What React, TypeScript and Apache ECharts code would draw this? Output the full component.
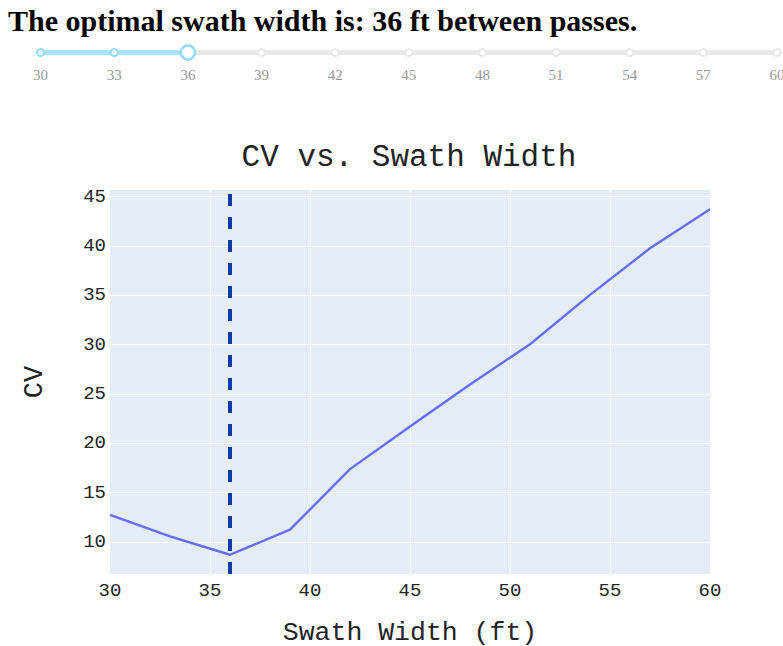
import React, { useEffect, useRef } from "react";
import * as echarts from "echarts";

// ---- data ----
const headerText = "The optimal swath width is: 36 ft between passes.";
const chartTitle = "CV vs. Swath Width";
const xAxisTitle = "Swath Width (ft)";
const yAxisTitle = "CV";

const sliderMarks = [30, 33, 36, 39, 42, 45, 48, 51, 54, 57, 60];
const optimalWidth = 36;

const swathWidths = [30, 33, 36, 39, 42, 45, 48, 51, 54, 57, 60];
const cvValues = [12.76, 10.57, 8.71, 11.25, 17.39, 21.7, 25.96, 30.05, 35.05, 39.77, 43.73];

const xRange = [30, 60];
const xTickStep = 5;
const yRange = [6.76, 45.68];

const MONO = '"Liberation Mono", "Courier New", monospace';
const SERIF = '"Liberation Serif", "Times New Roman", serif';
const TEXT = "#222";

export default function App() {
  const ref = useRef<HTMLDivElement>(null);

  useEffect(() => {
    const chart = echarts.init(ref.current!, null, {
      renderer: "svg",
      width: 783,
      height: 646,
    });
    const first = sliderMarks[0];
    const last = sliderMarks[sliderMarks.length - 1];
    const option: any = {
      animation: false,
      backgroundColor: "#ffffff",
      graphic: [
        {
          type: "text",
          left: 8,
          top: 5,
          style: {
            text: headerText,
            font: `bold 30px ${SERIF}`,
            fill: "#000",
          },
        },
        {
          type: "text",
          x: 409,
          y: 157,
          style: {
            text: chartTitle,
            font: `31px ${MONO}`,
            fill: TEXT,
            align: "center",
            verticalAlign: "middle",
          },
        },
      ],
      grid: [
        {
          left: 110,
          right: 73,
          top: 190,
          bottom: 72,
          show: true,
          backgroundColor: "#E5ECF6",
          borderWidth: 0,
          containLabel: false,
          outerBoundsMode: "none",
        },
        {
          left: 40.6,
          right: 6,
          top: 42,
          height: 21,
          show: false,
          containLabel: false,
          outerBoundsMode: "none",
        },
      ],
      xAxis: [
        {
          type: "value",
          gridIndex: 0,
          min: xRange[0],
          max: xRange[1],
          interval: xTickStep,
          name: xAxisTitle,
          nameLocation: "middle",
          nameGap: 45,
          nameTextStyle: { fontFamily: MONO, fontSize: 26.5, color: TEXT },
          axisLine: { show: false },
          axisTick: { show: false },
          axisLabel: { fontFamily: MONO, fontSize: 19, color: TEXT, margin: 7 },
          splitLine: {
            show: true,
            showMinLine: false,
            showMaxLine: false,
            lineStyle: { color: "#ffffff", width: 1 },
          },
        },
        {
          type: "value",
          gridIndex: 1,
          min: first,
          max: last,
          interval: 3,
          axisLine: { show: false },
          axisTick: { show: false },
          splitLine: { show: false },
          axisLabel: { fontFamily: SERIF, fontSize: 15, color: "#999", margin: 4 },
        },
      ],
      yAxis: [
        {
          type: "value",
          gridIndex: 0,
          min: yRange[0],
          max: yRange[1],
          splitNumber: 8,
          name: yAxisTitle,
          nameLocation: "middle",
          nameGap: 62,
          nameTextStyle: { fontFamily: MONO, fontSize: 27, color: TEXT },
          axisLine: { show: false },
          axisTick: { show: false },
          axisLabel: {
            fontFamily: MONO,
            fontSize: 19,
            color: TEXT,
            margin: 4,
            showMinLabel: false,
            showMaxLabel: false,
          },
          splitLine: {
            show: true,
            showMinLine: false,
            showMaxLine: false,
            lineStyle: { color: "#ffffff", width: 1 },
          },
        },
        {
          type: "value",
          gridIndex: 1,
          min: -1,
          max: 1,
          show: false,
        },
      ],
      series: [
        {
          type: "line",
          xAxisIndex: 0,
          yAxisIndex: 0,
          data: swathWidths.map((x, i) => [x, cvValues[i]]),
          showSymbol: false,
          lineStyle: { color: "#636EFA", width: 2.4 },
          z: 3,
          markLine: {
            silent: true,
            symbol: ["none", "none"],
            label: { show: false },
            lineStyle: { color: "#0A3CA2", width: 4, type: [12, 11] },
            data: [{ xAxis: optimalWidth }],
          },
        },
        {
          type: "line",
          xAxisIndex: 1,
          yAxisIndex: 1,
          data: [
            [first, 0],
            [last, 0],
          ],
          showSymbol: false,
          lineStyle: { color: "#e9e9e9", width: 5, cap: "round" },
          z: 1,
        },
        {
          type: "line",
          xAxisIndex: 1,
          yAxisIndex: 1,
          data: [
            [first, 0],
            [optimalWidth, 0],
          ],
          showSymbol: false,
          lineStyle: { color: "#abe2fb", width: 5, cap: "round" },
          z: 2,
        },
        {
          type: "scatter",
          xAxisIndex: 1,
          yAxisIndex: 1,
          data: sliderMarks.filter((v) => v > optimalWidth).map((v) => [v, 0]),
          symbolSize: 7,
          itemStyle: { color: "#ffffff", borderColor: "#e9e9e9", borderWidth: 2, opacity: 1 },
          z: 3,
        },
        {
          type: "scatter",
          xAxisIndex: 1,
          yAxisIndex: 1,
          data: sliderMarks.filter((v) => v < optimalWidth).map((v) => [v, 0]),
          symbolSize: 7,
          itemStyle: { color: "#ffffff", borderColor: "#96dbfa", borderWidth: 2, opacity: 1 },
          z: 3,
        },
        {
          type: "scatter",
          xAxisIndex: 1,
          yAxisIndex: 1,
          data: [[optimalWidth, 0]],
          symbolSize: 14,
          itemStyle: { color: "#ffffff", borderColor: "#96dbfa", borderWidth: 2.5, opacity: 1 },
          z: 4,
        },
      ],
    };
    chart.setOption(option);
    return () => chart.dispose();
  }, []);

  return (
    <div
      ref={ref}
      style={{ position: "absolute", left: 0, top: 0, width: 783, height: 646 }}
    />
  );
}
